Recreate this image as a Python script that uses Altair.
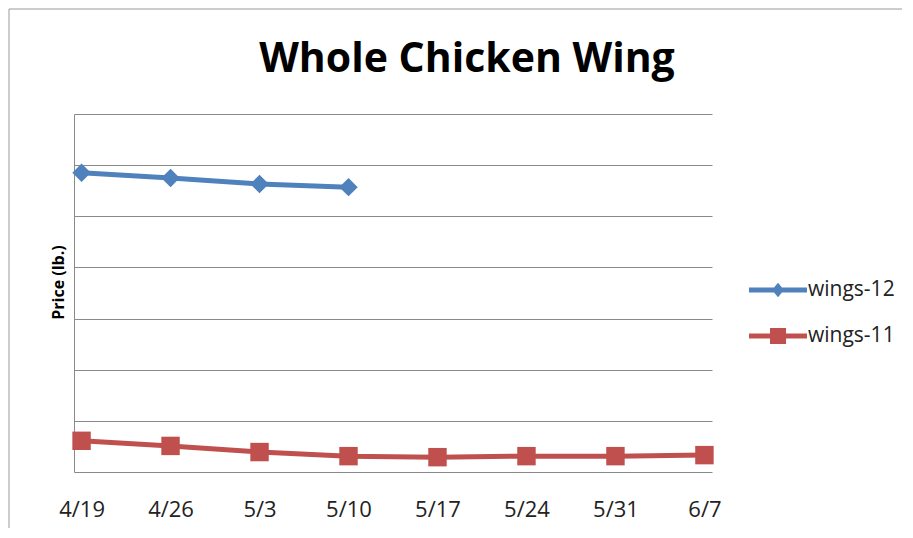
import altair as alt
import pandas as pd

dates = ["4/19", "4/26", "5/3", "5/10", "5/17", "5/24", "5/31", "6/7"]
wings12 = [5.85, 5.75, 5.63, 5.57]
wings11 = [0.61, 0.51, 0.39, 0.31, 0.29, 0.31, 0.31, 0.33]
series = ["wings-12", "wings-11"]
colors = ["#4F81BD", "#C0504D"]
shapes = ["diamond", "square"]
y_grid = [0, 1, 2, 3, 4, 5, 6, 7]

rows = []
for d, v in zip(dates, wings12):
    rows.append({"date": d, "price": v, "series": series[0]})
for d, v in zip(dates, wings11):
    rows.append({"date": d, "price": v, "series": series[1]})
df = pd.DataFrame(rows)

FONT = "Open Sans"

# legend symbols: a horizontal bar with the marker in its middle
line_part = "M-1.45,-0.125L1.45,-0.125L1.45,0.125L-1.45,0.125Z"
legend_paths = [
    line_part + "M0,-0.36L0.3,0L0,0.36L-0.3,0Z",
    line_part + "M-0.4,-0.4L0.4,-0.4L0.4,0.4L-0.4,0.4Z",
]

x_enc = alt.X(
    "date:O",
    sort=dates,
    scale=alt.Scale(type="point", padding=0.085),
    axis=alt.Axis(
        title=None, labelAngle=0, ticks=False, domain=False, grid=False,
        labelFont=FONT, labelFontSize=22, labelColor="#222222", labelPadding=27,
    ),
)
y_enc = alt.Y(
    "price:Q",
    scale=alt.Scale(domain=[0, 7], nice=False, zero=True),
    axis=alt.Axis(
        title="Price (lb.)", titleFont=FONT, titleFontSize=16, titleFontWeight="bold",
        titleColor="black", titlePadding=8, titleY=168, labels=False, ticks=False,
        domain=True, domainColor="#8a8a8a", grid=True, gridColor="#8a8a8a",
        values=y_grid,
    ),
)
color_enc = alt.Color(
    "series:N",
    scale=alt.Scale(domain=series, range=colors),
    legend=None,
)

base = alt.Chart(df).encode(x=x_enc, y=y_enc, color=color_enc)
lines = base.mark_line(strokeWidth=5)
points = base.mark_point(filled=True, opacity=1, size=340).encode(
    shape=alt.Shape("series:N", scale=alt.Scale(domain=series, range=shapes), legend=None)
)

legend_layers = []
for i, (name, col, path) in enumerate(zip(series, colors, legend_paths)):
    lay = (
        alt.Chart(df)
        .transform_filter(alt.datum.series == name)
        .mark_point(filled=True, opacity=0)
        .encode(
            x=alt.X("date:O", sort=dates),
            y=alt.Y("price:Q"),
            color=alt.value(col),
            shape=alt.Shape(
                "series:N",
                scale=alt.Scale(domain=[name], range=[path]),
                legend=alt.Legend(
                    title=None, orient="none", legendX=684, legendY=156 + 46 * i,
                    symbolSize=1600, symbolOpacity=1, symbolFillColor=col,
                    symbolStrokeWidth=0, labelFont=FONT, labelFontSize=21,
                    labelColor="#222222", labelOffset=10,
                ),
            ),
        )
    )
    legend_layers.append(lay)

frame_df = pd.DataFrame({"k": [0]})
frame_v = alt.Chart(frame_df).mark_rule(color="#9a9a9a", strokeWidth=1).encode(
    x=alt.value(-65), y=alt.value(-105), y2=alt.value(520)
)
frame_h = alt.Chart(frame_df).mark_rule(color="#9a9a9a", strokeWidth=1).encode(
    y=alt.value(-105), x=alt.value(-65), x2=alt.value(900)
)

chart = (
    alt.layer(frame_v, frame_h, lines, points, *legend_layers)
    .resolve_scale(shape="independent")
    .resolve_legend(shape="independent")
    .properties(
        width=638,
        height=358,
        autosize=alt.AutoSizeParams(type="none"),
        padding={"left": 66, "top": 106, "right": 190, "bottom": 56},
        title=alt.TitleParams(
            "Whole Chicken Wing", font=FONT, fontSize=41, fontWeight="bold",
            color="black", anchor="middle", dx=74, offset=-104, baseline="alphabetic",
        ),
    )
    .configure_view(stroke=None)
)

chart.save("out.html", embed_options={"renderer": "svg", "actions": False})
